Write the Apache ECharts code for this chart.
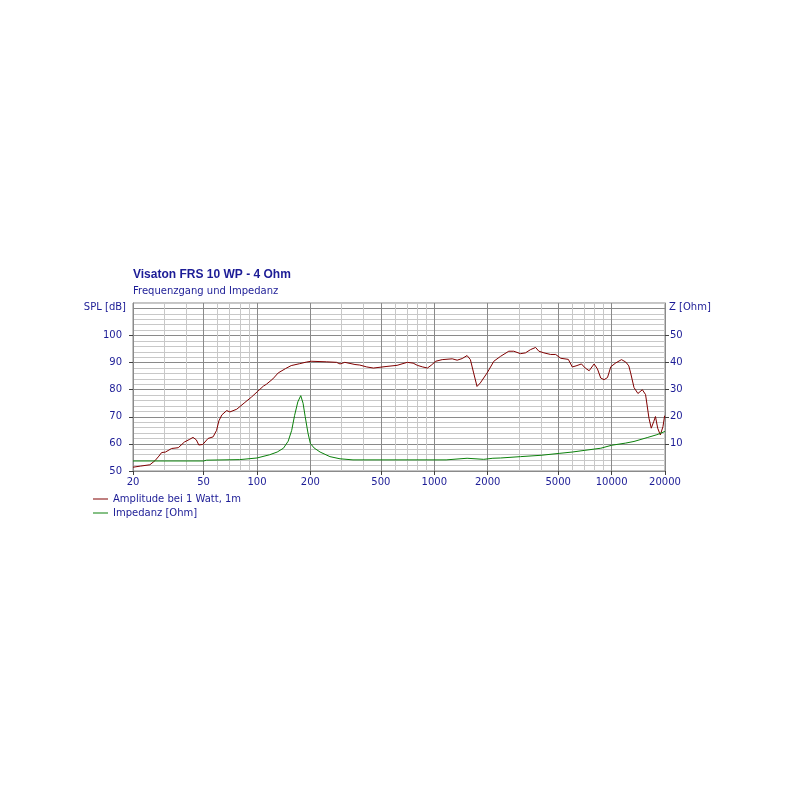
<!DOCTYPE html>
<html><head><meta charset="utf-8">
<script src="https://cdn.jsdelivr.net/npm/echarts@6/dist/echarts.min.js"></script>
<style>html,body{margin:0;padding:0;background:#fff}#c{width:800px;height:800px}</style>
</head><body><div id="c"></div>
<script>
// SPL frequency response (Hz, dB)
const splFreq = [20,22,24.9,26.6,28,29,30.5,33,36,39,41.5,43.6,45.5,47,49.5,53,56.6,59.2,61,63.4,67.5,70.4,76.9,85.5,93.2,101,108.6,113,123,131.8,145,156,174,190,202,246,281,294,313,357,380,416,454,541,617,704,760,802,860,915,960,1019,1108,1262,1346,1436,1531,1598,1667,1742,1818,1986,2167,2362,2631,2807,3062,3269,3490,3726,3889,4152,4531,4838,5165,5700,6000,6300,6760,7100,7470,7965,8317,8683,9070,9480,9900,10560,11370,12020,12500,12800,13375,14070,14900,15540,16240,16730,17290,17670,18190,18820,19480,19900,20000];
const splValues = [51.4,51.8,52.3,53.8,55.5,56.8,57.0,58.3,58.6,60.7,61.6,62.4,61.5,59.6,59.8,62.0,62.6,65.0,68.5,70.7,72.3,71.8,72.8,75.3,77.3,79.4,81.3,82.0,84.0,86.2,87.8,88.9,89.6,90.2,90.5,90.3,90.1,89.5,90.1,89.3,89.1,88.4,88.0,88.6,89.0,90.1,89.8,89.0,88.4,88.0,89.0,90.5,91.1,91.4,90.9,91.5,92.6,91.1,86.2,81.2,82.5,86.2,90.5,92.3,94.2,94.2,93.3,93.6,94.8,95.6,94.2,93.6,93.0,93.0,91.6,91.2,88.4,88.8,89.5,88.0,87.0,89.5,87.7,84.3,83.7,84.5,88.5,89.9,91.1,90.2,88.8,86.2,80.8,78.6,80.0,78.2,69.5,65.8,68.3,70.1,65.8,63.3,66.4,70.4,70.5];
// Impedance (Hz, Ohm)
const impFreq = [20,50,52,80,100,118,130,141,150,157,163,170,176.6,182,187,194,200,210,227,258,294,348,1166,1531,1900,2140,2363,3062,4000,5060,6000,7000,8683,10000,12000,13375,16000,18000,20000];
const impValues = [3.7,3.7,4.0,4.2,4.8,6.0,7.0,8.4,11.0,15.0,20.5,25.5,27.8,25.0,20.1,14.0,10.2,8.5,7.0,5.3,4.5,4.1,4.1,4.7,4.3,4.7,4.8,5.3,5.8,6.5,7.0,7.6,8.4,9.5,10.3,10.9,12.4,13.4,14.6];
// Tick labels / grid values
const xLabelValues = [20,50,100,200,500,1000,2000,5000,10000,20000];
const xGridValues = [20,30,40,50,60,70,80,90,100,200,300,400,500,600,700,800,900,1000,2000,3000,4000,5000,6000,7000,8000,9000,10000,20000];
const splTickValues = [50,60,70,80,90,100];
const impTickValues = [10,20,30,40,50];

const FONT = '"DejaVu Sans", sans-serif';
const NAVY = '#1c1c96';
const MAJOR = '#8a8a8a';
const MINOR = '#c8c8c8';

const chart = echarts.init(document.getElementById('c'), null, {renderer: 'canvas'});
chart.setOption({
  animation: false,
  backgroundColor: '#ffffff',
  title: {
    text: 'Visaton FRS 10 WP - 4 Ohm',
    subtext: 'Frequenzgang und Impedanz',
    left: 133, top: 269, padding: 0, itemGap: 5,
    textStyle: {fontFamily: '"Liberation Sans", Arial, sans-serif', fontSize: 12, fontWeight: 'bold', color: NAVY},
    subtextStyle: {fontFamily: FONT, fontSize: 10, color: NAVY}
  },
  legend: {
    orient: 'vertical', left: 93, top: 494, padding: 0, itemGap: 4,
    itemWidth: 15, itemHeight: 1, icon: 'rect',
    textStyle: {fontFamily: FONT, fontSize: 10, color: NAVY},
    data: ['Amplitude bei 1 Watt, 1m', 'Impedanz [Ohm]']
  },
  grid: {left: 133, right: 135, top: 303, bottom: 329, show: true, borderColor: MAJOR, borderWidth: 1, containLabel: false},
  xAxis: [{
    type: 'log', logBase: 10, min: 20, max: 20000,
    axisLine: {show: true, lineStyle: {color: MAJOR}},
    axisTick: {show: true, length: 4, lineStyle: {color: '#404040'}, customValues: xLabelValues},
    axisLabel: {customValues: xLabelValues, margin: 6, fontFamily: FONT, fontSize: 10, color: NAVY,
      formatter: v => String(Math.round(v))},
    splitLine: {show: false}, minorTick: {show: false}, minorSplitLine: {show: false}
  }, {
    type: 'log', logBase: 10, min: 20, max: 20000, position: 'bottom',
    axisLine: {show: false},
    axisTick: {show: false, customValues: xGridValues},
    axisLabel: {show: false},
    splitLine: {show: true, lineStyle: {width: 1, color: [MAJOR, MINOR, MINOR, MAJOR, MINOR, MINOR, MINOR, MINOR, MAJOR]}}
  }],
  yAxis: [{
    type: 'value', position: 'left', min: 50, max: 112, interval: 2,
    name: 'SPL [dB]', nameLocation: 'end', nameGap: -4,
    nameTextStyle: {fontFamily: FONT, fontSize: 10, color: NAVY, align: 'right', verticalAlign: 'middle', padding: [0, 7, 0, 0]},
    axisLine: {show: true, lineStyle: {color: MAJOR}},
    axisTick: {show: true, length: 4, lineStyle: {color: '#404040'}, customValues: splTickValues},
    axisLabel: {customValues: splTickValues, margin: 11, fontFamily: FONT, fontSize: 10, color: NAVY},
    splitLine: {show: false}
  }, {
    type: 'value', position: 'right', min: 0, max: 62, interval: 2,
    name: 'Z [Ohm]', nameLocation: 'end', nameGap: -4,
    nameTextStyle: {fontFamily: FONT, fontSize: 10, color: NAVY, align: 'left', verticalAlign: 'middle', padding: [0, 0, 0, 4]},
    axisLine: {show: true, lineStyle: {color: MAJOR}},
    axisTick: {show: true, length: 4, lineStyle: {color: '#404040'}, customValues: impTickValues},
    axisLabel: {customValues: impTickValues, margin: 5, fontFamily: FONT, fontSize: 10, color: NAVY},
    splitLine: {show: false}
  }, {
    type: 'value', position: 'left', min: 50, max: 112, interval: 2,
    axisLine: {show: false}, axisTick: {show: false}, axisLabel: {show: false},
    splitLine: {show: true, lineStyle: {width: 1, color: [MAJOR, MINOR, MINOR, MINOR, MINOR]}}
  }],
  series: [{
    name: 'Amplitude bei 1 Watt, 1m', type: 'line', xAxisIndex: 0, yAxisIndex: 0,
    symbol: 'none', smooth: false, color: '#800000',
    lineStyle: {width: 1, color: '#800000'},
    data: splFreq.map((f, i) => [f, splValues[i]])
  }, {
    name: 'Impedanz [Ohm]', type: 'line', xAxisIndex: 0, yAxisIndex: 1,
    symbol: 'none', smooth: false, color: '#0a800a',
    lineStyle: {width: 1, color: '#0a800a'},
    data: impFreq.map((f, i) => [f, impValues[i]])
  }]
});
</script></body></html>
